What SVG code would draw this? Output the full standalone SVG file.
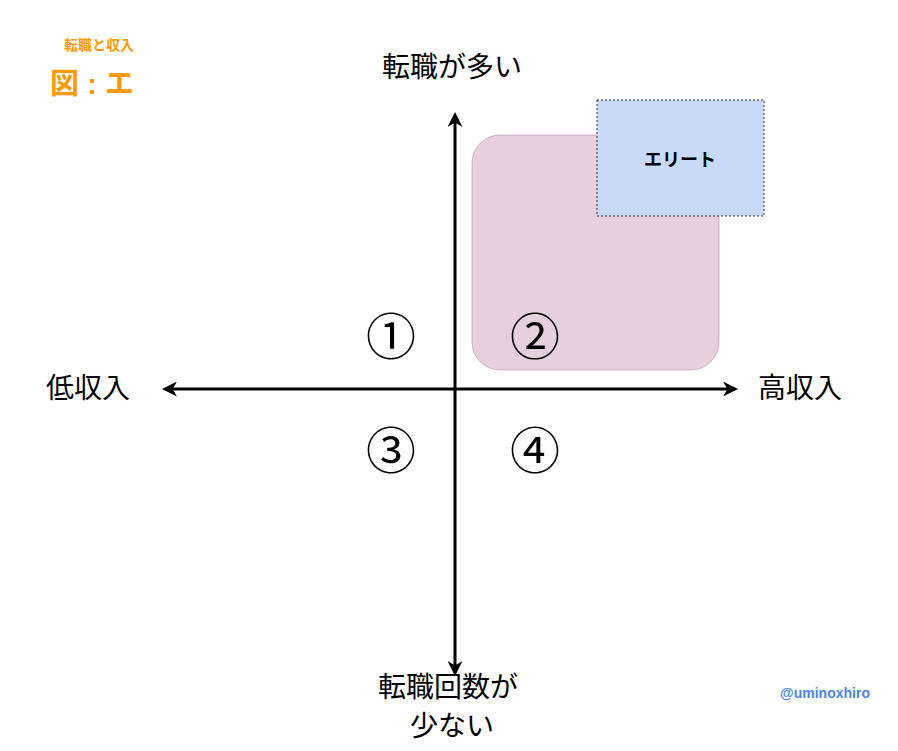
<svg xmlns="http://www.w3.org/2000/svg" width="898" height="751" viewBox="0 0 898 751">
<style>
text{font-family:"Liberation Sans","Noto Sans CJK JP",sans-serif;}
.ax{stroke:#000;stroke-width:3;fill:none}
.lbl{font-size:28px;fill:#000;text-anchor:middle}
.num{font-size:50px;fill:#000;text-anchor:middle}
</style>
<defs><marker id="ah" viewBox="0 0 10 10" refX="8" refY="5" markerWidth="5" markerHeight="5" orient="auto-start-reverse" markerUnits="strokeWidth"><path d="M0,0 L10,5 L0,10 L3,5 z" fill="#000"/></marker></defs>
<rect width="898" height="751" fill="#fff"/>
<g id="title"><text x="99" y="50" font-size="14" font-weight="bold" fill="#ff9900" text-anchor="middle">転職と収入</text>
<text x="92" y="94" font-size="29" font-weight="bold" fill="#ff9900" text-anchor="middle">図 : エ</text></g>
<g id="region2"><rect x="472" y="135" width="247" height="235" rx="28" fill="#e6d0de" stroke="#b5739d" stroke-width="0.5"/></g>
<g id="elite"><rect x="597" y="100" width="167" height="116" fill="#c9daf8" stroke="#333" stroke-dasharray="2 2"/><text x="680" y="166" font-size="18" font-weight="bold" text-anchor="middle">エリート</text></g>
<g id="connectors">
<line class="ax" x1="455" y1="385" x2="455" y2="115" marker-end="url(#ah)"/>
<line class="ax" x1="455" y1="385" x2="455" y2="673" marker-end="url(#ah)"/>
<line class="ax" x1="455" y1="389" x2="165" y2="389" marker-end="url(#ah)"/>
<line class="ax" x1="455" y1="389" x2="735" y2="389" marker-end="url(#ah)"/>
</g>
<g id="labels">
<text class="lbl" x="452" y="77">転職が多い</text>
<text class="lbl" x="88" y="398">低収入</text>
<text class="lbl" x="800" y="398">高収入</text>
<text class="lbl" x="448" y="697">転職回数が</text>
<text class="lbl" x="452" y="736">少ない</text>
<text class="num" x="391" y="355">①</text>
<text class="num" x="535" y="355">②</text>
<text class="num" x="391" y="469">③</text>
<text class="num" x="535" y="469">④</text>
<text x="825" y="698" font-size="14" font-weight="bold" fill="#4a86e8" text-anchor="middle">@uminoxhiro</text>
</g>
</svg>
